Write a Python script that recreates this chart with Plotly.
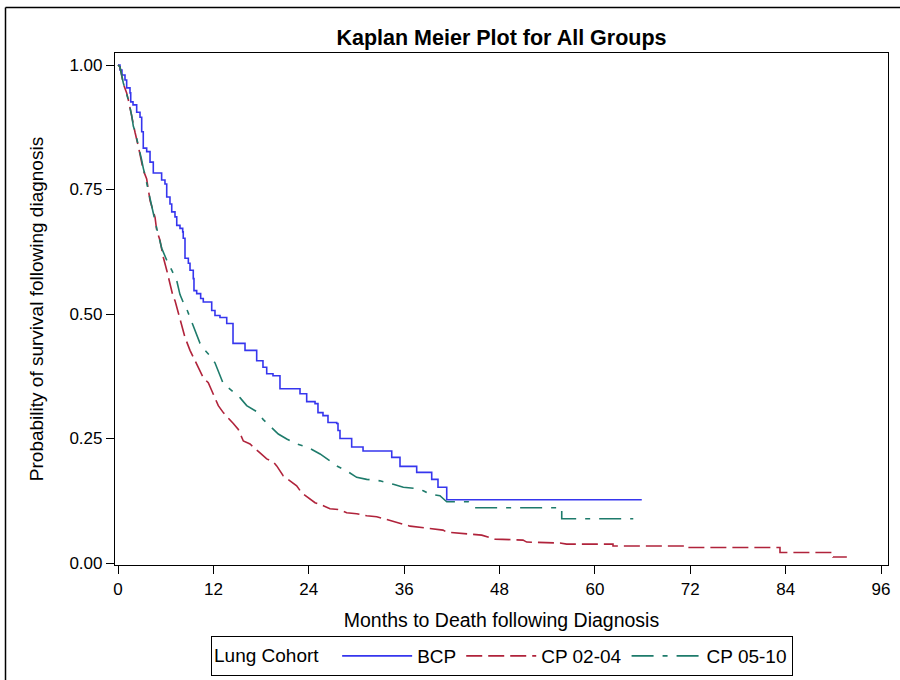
import plotly.graph_objects as go

# ---- data ----
bcp_t = [0, 0.25, 0.5, 0.88, 1.09, 1.51, 1.6, 1.89, 2.35, 2.77, 2.98, 3.18, 3.61, 4.03, 4.44,
         5.49, 5.91, 6.13, 6.54, 6.76, 7.17, 7.39, 7.80, 8.14, 8.21, 8.43, 8.85, 9.06, 9.47, 9.56,
         9.90, 10.4, 10.73, 11.79, 12.2, 12.83, 13.68, 14.47, 15.98, 17.45, 18.24, 18.71, 19.5,
         20.38, 22.9, 23.74, 24.79, 25.16, 25.79, 26.42, 27.52, 27.68, 27.93, 29.40, 30.83, 34.44,
         35.48, 37.58, 39.47, 40.26, 41.36, 65.9]
bcp_s = [1, .990, .980, .970, .954, .944, .926, .920, .905, .895, .866, .833, .826, .805, .783,
         .769, .761, .735, .721, .705, .695, .678, .672, .665, .652, .612, .602, .588, .571, .547,
         .541, .531, .524, .507, .497, .493, .481, .441, .427, .406, .393, .380, .376,
         .350, .340, .324, .320, .302, .296, .282, .280, .266, .250, .233, .225, .212,
         .194, .182, .168, .152, .127, .127]

cp0204_t = [0, 0.25, 0.67, 1.09, 1.30, 1.72, 1.93, 2.14, 2.55, 2.98, 3.18, 3.61, 4.03, 4.66, 4.87,
            5.28, 5.50, 5.70, 6.13, 6.54, 6.96, 7.17, 7.59, 7.80, 8.43, 9.06, 9.69, 10.32, 10.73,
            11.36, 11.79, 12.20, 12.62, 13.25, 13.88, 14.51, 15.14, 15.77, 16.61, 17.24, 17.87,
            18.71, 19.54, 19.97, 20.38, 20.80, 21.64, 22.48, 23.11, 23.94, 24.79, 25.83, 26.67,
            27.93, 28.77, 30.03, 31.29, 32.55, 33.38, 35.90, 36.74, 38.84, 40.89, 41.36, 43.24,
            45.76, 47.43, 50.96, 51.42, 55.61, 56.45, 62.28, 62.28, 71.34, 71.34, 83.29, 83.29,
            89.96, 89.96, 91.7]
cp0204_s = [1, .996, .962, .944, .930, .895, .875, .865, .837, .805, .789, .771, .728, .694, .668,
            .648, .628, .614, .588, .559, .533, .527, .501, .493, .453, .427, .406, .388, .372,
            .362, .346, .332, .316, .302, .292, .280, .268, .245, .239, .229, .221,
            .209, .203, .195, .185, .175, .165, .155, .141, .131, .121, .115, .109,
            .107, .101, .099, .095, .093, .089, .078, .074, .070, .066, .062, .060,
            .056, .048, .046, .042, .040, .038, .038, .034, .034, .031, .031, .021,
            .021, .012, .012]

cp0510_t = [0, 0.25, 0.67, 1.09, 1.30, 1.72, 1.93, 2.14, 2.55, 2.98, 3.18, 3.40, 4.03, 4.44, 4.87,
            5.50, 6.13, 6.76, 7.39, 7.80, 8.22, 8.43, 9.06, 9.90, 10.32, 10.95, 11.58, 12.20,
            12.83, 13.25, 14.31, 15.35, 16.19, 17.45, 18.28, 19.34, 20.17, 21.23, 22.48, 23.94,
            25.42, 26.67, 27.52, 28.77, 30.03, 31.29, 32.96, 34.64, 35.90, 37.78, 38.41, 39.25,
            40.51, 41.36, 44.07, 44.70, 55.83, 55.83, 64.83]
cp0510_s = [1, .996, .964, .944, .930, .899, .877, .867, .841, .809, .793, .779, .732, .702, .672,
            .632, .608, .588, .567, .539, .523, .519, .493, .457, .441, .427, .416, .402,
            .376, .360, .346, .332, .316, .304, .288, .272, .259, .249, .239, .232,
            .219, .205, .195, .185, .172, .168, .165, .158, .152, .149, .145, .138,
            .135, .123, .123, .111, .111, .089, .089]

x_ticks = [0, 12, 24, 36, 48, 60, 72, 84, 96]
y_ticks = [0, 0.25, 0.5, 0.75, 1.0]
series_names = ["BCP", "CP 02-04", "CP 05-10"]

FONT = "Arial, Liberation Sans, sans-serif"

fig = go.Figure()
fig.add_trace(go.Scatter(x=bcp_t, y=bcp_s, mode="lines", name=series_names[0],
                         line=dict(color="#3636EE", width=1.6, shape="hv")))
fig.add_trace(go.Scatter(x=cp0204_t, y=cp0204_s, mode="lines", name=series_names[1],
                         line=dict(color="#B0233B", width=1.6, dash="16px,6px")))
fig.add_trace(go.Scatter(x=cp0510_t, y=cp0510_s, mode="lines", name=series_names[2],
                         line=dict(color="#1E7B6B", width=1.6, dash="22px,9px,5px,9px")))

L, R, T, B = 115, 888, 53, 565
W, H = 900, 680
pw, ph = R - L, B - T

def px(x):
    return (x - L) / pw

def py(y):
    return (B - y) / ph

fig.update_layout(
    width=W, height=H,
    margin=dict(l=L, r=W - R, t=T, b=H - B, autoexpand=False),
    paper_bgcolor="white", plot_bgcolor="white",
    font=dict(family=FONT, color="black"),
    title=dict(text="<b>Kaplan Meier Plot for All Groups</b>", x=(L + R) / 2 / W, xanchor="center",
               y=1 - 37 / H, yanchor="middle", font=dict(size=21.5, family=FONT)),
    showlegend=True,
    legend=dict(orientation="h", x=px(502), xanchor="center", y=py(636), yanchor="top",
                bordercolor="black", borderwidth=1, bgcolor="white",
                title=dict(text="Lung Cohort  ", font=dict(size=19)),
                font=dict(size=19), itemwidth=70),
    shapes=[
        dict(type="line", xref="paper", yref="paper", x0=px(5.5), x1=px(900), y0=py(7.5), y1=py(7.5),
             line=dict(color="black", width=1.5)),
        dict(type="line", xref="paper", yref="paper", x0=px(5.5), x1=px(5.5), y0=py(7.5), y1=py(681),
             line=dict(color="black", width=1.5)),
    ],
)

fig.update_xaxes(range=[(L - 118) / 7.948, (R - 118) / 7.948], tickvals=x_ticks,
                 ticks="outside", ticklen=8, tickcolor="black", showline=True, linecolor="black",
                 linewidth=1.2, mirror=True, showgrid=False, zeroline=False,
                 tickfont=dict(size=17),
                 title=dict(text="Months to Death following Diagnosis", font=dict(size=19.5), standoff=15))
fig.update_yaxes(range=[-(B - 563) / 498, (563 - T) / 498], tickvals=y_ticks, tickformat=".2f",
                 ticks="outside", ticklen=8, tickcolor="black", showline=True, linecolor="black",
                 linewidth=1.2, mirror=True, showgrid=False, zeroline=False,
                 tickfont=dict(size=17),
                 title=dict(text="Probability of survival following diagnosis", font=dict(size=19), standoff=20))

fig.write_html("out.html", config={"displayModeBar": False},
               post_script="document.body.style.margin='0';document.body.style.padding='0';")
